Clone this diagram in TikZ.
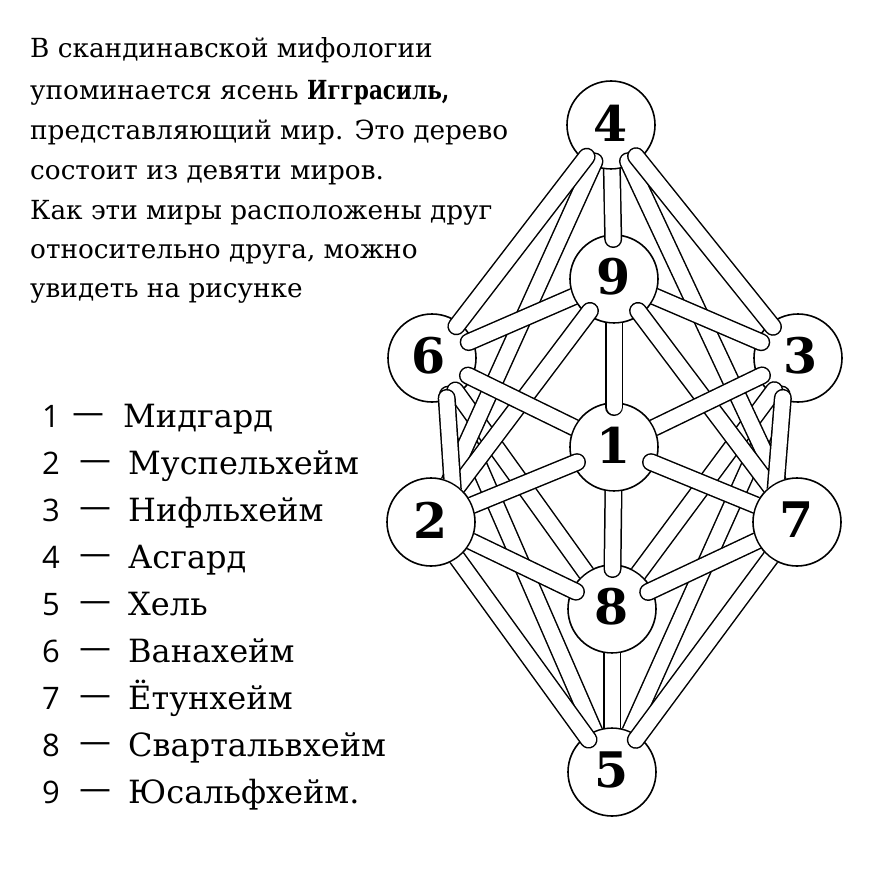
\documentclass[tikz,border=0pt]{standalone}
\usepackage{fontspec}
\usepackage{graphicx}
\setmainfont{DejaVu Serif}
\newfontfamily\legsans{Open Sans}
\newfontfamily\dashfont{DejaVu Sans}
\newfontfamily\digfont{DejaVu Serif}
\usetikzlibrary{calc}
\tikzset{
  tubeout/.style={line width=18pt, line cap=round, black},
  tubein/.style={line width=15pt, line cap=round, white},
  world/.style={circle, draw, line width=1.6pt, fill=white, minimum size=88pt, inner sep=0pt},
  digit/.style={inner sep=0pt, font=\digfont\bfseries\fontsize{49}{49}\selectfont},
  para/.style={anchor=base west, inner sep=0pt, font=\fontsize{26.3}{30}\selectfont},
  legnum/.style={anchor=base west, inner sep=0pt, font=\legsans\fontsize{31}{36}\selectfont},
  legdash/.style={anchor=base west, inner sep=0pt, font=\dashfont\fontsize{32}{36}\selectfont},
  legname/.style={anchor=base west, inner sep=0pt, font=\fontsize{32}{36}\selectfont}
}
% tube between worlds #1 and #2; #3/#4 = 1: rounded end lies over that circle, 0: end hidden under it;
% #5/#6 = shift of the tube's axis at each end
\newcommand\tubeo[6]{%
  \begin{scope}[even odd rule]
    \ifnum#3=0\relax \clip (1000,-100) rectangle (-100,1000) (c#1) circle[radius=44.8pt];\fi
    \ifnum#4=0\relax \clip (1000,-100) rectangle (-100,1000) (c#2) circle[radius=44.8pt];\fi
    \coordinate (sa) at ($(c#1)+#5$);
    \coordinate (sb) at ($(c#2)+#6$);
    \ifnum#3=1\relax \coordinate (ta) at ($(sa)!40pt!(sb)$);\else \coordinate (ta) at (sa);\fi
    \ifnum#4=1\relax \coordinate (tb) at ($(sb)!40pt!(sa)$);\else \coordinate (tb) at (sb);\fi
    \draw[tubeout] (ta) -- (tb);
    \draw[tubein] (ta) -- (tb);
  \end{scope}}
\newcommand\tube[4]{\tubeo{#1}{#2}{#3}{#4}{(0,0)}{(0,0)}}
\begin{document}
\begin{tikzpicture}[x=1pt,y=-1pt]
\fill[white] (0,0) rectangle (888,891);
\useasboundingbox (0,0) rectangle (888,891);

% world centres
\coordinate (c4) at (611,125);
\coordinate (c9) at (614,279);
\coordinate (c6) at (432,358);
\coordinate (c3) at (798,358);
\coordinate (c1) at (614,447);
\coordinate (c2) at (431,522);
\coordinate (c7) at (797,522);
\coordinate (c8) at (612,609);
\coordinate (c5) at (612,772);

% circles
\foreach \n in {4,9,6,3,1,2,7,8,5} {
  \node[world] (w\n) at (c\n) {};
}

% tubes (later ones on top)
\tube{8}{5}{0}{0}
\tube{6}{5}{1}{0}
\tube{3}{5}{1}{0}
\tube{6}{8}{1}{0}
\tube{3}{8}{1}{0}
\tube{4}{2}{1}{0}
\tube{4}{7}{1}{0}
\tube{9}{2}{1}{0}
\tube{9}{7}{1}{0}
\tubeo{6}{2}{1}{0}{(12,0)}{(24,0)}
\tubeo{3}{7}{1}{0}{(-12,0)}{(-24,0)}
\tube{1}{6}{0}{1}
\tube{1}{3}{0}{1}
\tube{9}{6}{0}{1}
\tube{9}{3}{0}{1}
\tube{4}{6}{1}{1}
\tube{4}{3}{1}{1}
\tube{2}{5}{0}{1}
\tube{7}{5}{0}{1}
\tube{4}{9}{0}{1}
\tube{9}{1}{0}{1}
\tube{1}{8}{0}{1}
\tube{1}{2}{1}{0}
\tube{1}{7}{1}{0}
\tube{8}{2}{1}{0}
\tube{8}{7}{1}{0}

% digits
\foreach \n/\dx in {1/0,2/0,3/3,4/0,5/0,6/-3,7/0,8/0,9/0} {
  \node[digit] (d\n) at ($(c\n)+(\dx,-2)$) {\n};
}

% paragraph
\node[para] (p1) at (30,58)  {В скандинавской мифологии};
\node[para] (p2) at (30,99)  {упоминается ясень \scalebox{0.82}[1]{\textbf{Иггрaсиль,}}};
\node[para] (p3) at (30,139) {представляющий мир. Это дерево};
\node[para] (p4) at (30,179) {состоит из девяти миров.};
\node[para] (p5) at (30,219) {Как эти миры расположены друг};
\node[para] (p6) at (30,258) {относительно друга, можно};
\node[para] (p7) at (30,297) {увидеть на рисунке};

% legend
\foreach \k/\nm in {1/Мидгард,2/Муспельхейм,3/Нифльхейм,4/Асгард,5/Хель,6/Ванахейм,7/Ётунхейм,8/Свартальвхейм,9/Юсальфхейм.} {
  \pgfmathsetmacro\yb{427+47.1*(\k-1)}
  \ifnum\k=1
    \node[legnum] (n\k) at (42,\yb) {\k};
    \node[legdash] (m\k) at (72,\yb) {\raisebox{4pt}{—}};
    \node[legname] (t\k) at (123,\yb) {\nm};
  \else
    \node[legnum] (n\k) at (42,\yb) {\k};
    \node[legdash] (m\k) at (79,\yb) {\raisebox{4pt}{—}};
    \node[legname] (t\k) at (128,\yb) {\nm};
  \fi
}
\end{tikzpicture}
\end{document}
